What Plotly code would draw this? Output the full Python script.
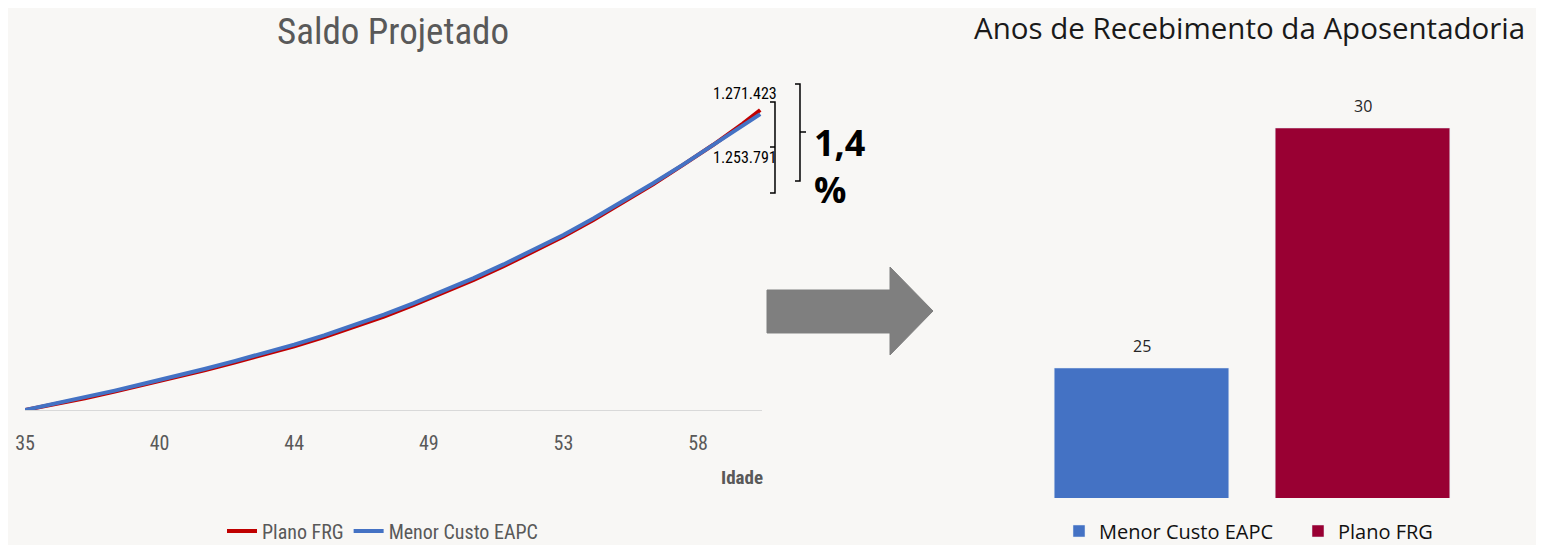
import plotly.graph_objects as go

# ---------------- data ----------------
ages = [35, 36, 37, 38, 39, 40, 41, 42, 43, 44, 45, 46, 47, 48, 49, 50,
        51, 52, 53, 54, 55, 56, 57, 58, 59, 59.58]
plano_frg = [0, 24000, 50000, 78000, 107000, 137000, 168000, 201000, 235000, 270000,
             309000, 351000, 396000, 445000, 497000, 551000, 609000, 671000, 735000,
             805000, 879000, 957000, 1039000, 1123000, 1214000, 1271423]
menor_custo = [0, 26000, 53000, 82000, 112000, 142000, 174000, 207000, 241000, 277000,
               316000, 359000, 404000, 453000, 505000, 559000, 617000, 678000, 742000,
               812000, 885000, 961000, 1040000, 1121000, 1203000, 1253791]
tick_vals = [35, 39.5, 44, 48.5, 53, 57.5]
tick_text = ["35", "40", "44", "49", "53", "58"]
diff_label = "1,4<br>%"

bar_names = ["Menor Custo EAPC", "Plano FRG"]
bar_values = [25, 30]

# ---------------- helpers (page has an 8px body margin) ----------------
OFF = 8
W, H = 1544 - 2 * OFF, 553 - 2 * OFF
def fx(px):
    return (px - OFF) / W
def fy(py):
    return 1 - (py - OFF) / H

NARROW = "Roboto Condensed, Liberation Sans Narrow, DejaVu Sans Condensed, sans-serif"
RED = "#c00000"
BLUE = "#4472c4"
BAR_RED = "#990033"
GRAY_TXT = "#595959"

fig = go.Figure()

fig.add_trace(go.Scatter(x=ages, y=plano_frg, mode="lines", name="Plano FRG",
                         line=dict(color=RED, width=4), xaxis="x", yaxis="y",
                         legend="legend"))
fig.add_trace(go.Scatter(x=ages, y=menor_custo, mode="lines", name="Menor Custo EAPC",
                         line=dict(color=BLUE, width=4), xaxis="x", yaxis="y",
                         legend="legend"))

bar_colors = [BLUE, BAR_RED]
for name, val, col in zip(bar_names, bar_values, bar_colors):
    fig.add_trace(go.Bar(x=[name], y=[val], name=name, marker=dict(color=col),
                         width=0.79, xaxis="x2", yaxis="y2", legend="legend2"))

annotations = []
for name, val in zip(bar_names, bar_values):
    annotations.append(dict(x=name, y=val, xref="x2", yref="y2", text=str(val),
                            showarrow=False, yshift=22,
                            font=dict(family="Open Sans, sans-serif", size=16, color="#262626")))

def fmt(v):
    return f"{v:,}".replace(",", ".")

annotations.append(dict(x=ages[-1], y=plano_frg[-1], xref="x", yref="y",
                        text=fmt(plano_frg[-1]), showarrow=False, xshift=-15, yshift=16,
                        font=dict(family=NARROW, size=16, color="#000000")))
annotations.append(dict(x=ages[-1], y=menor_custo[-1], xref="x", yref="y",
                        text=fmt(menor_custo[-1]), showarrow=False, xshift=-15, yshift=-43,
                        font=dict(family=NARROW, size=16, color="#000000")))
annotations.append(dict(x=fx(812), y=fy(166), xref="paper", yref="paper",
                        text="<b>" + diff_label + "</b>", showarrow=False,
                        xanchor="left", yanchor="middle", align="left",
                        font=dict(family="Open Sans, sans-serif", size=36, color="#000000")))
annotations.append(dict(x=fx(393), y=fy(31), xref="paper", yref="paper",
                        text="Saldo Projetado", showarrow=False,
                        xanchor="center", yanchor="middle",
                        font=dict(family=NARROW, size=37, color=GRAY_TXT)))
annotations.append(dict(x=fx(1249), y=fy(27), xref="paper", yref="paper",
                        text="Anos de Recebimento da Aposentadoria", showarrow=False,
                        xanchor="center", yanchor="middle",
                        font=dict(family="Open Sans, sans-serif", size=29.5, color="#1a1a1a")))
annotations.append(dict(x=fx(742), y=fy(477), xref="paper", yref="paper",
                        text="<b>Idade</b>", showarrow=False,
                        xanchor="center", yanchor="middle",
                        font=dict(family=NARROW, size=19, color=GRAY_TXT)))

def P(pts):
    return " ".join(("M" if i == 0 else "L") + f" {fx(x):.5f},{fy(y):.5f}"
                    for i, (x, y) in enumerate(pts))

shapes = []
arrow = [(767, 290), (890, 290), (890, 267), (933, 311), (890, 355), (890, 333), (767, 333)]
shapes.append(dict(type="path", xref="paper", yref="paper", path=P(arrow) + " Z",
                   fillcolor="#7f7f7f", line=dict(color="#7f7f7f", width=1)))
shapes.append(dict(type="path", xref="paper", yref="paper",
                   path=P([(770, 102), (775, 102), (775, 193), (770, 193)]),
                   line=dict(color="#000000", width=1.5)))
shapes.append(dict(type="path", xref="paper", yref="paper",
                   path=P([(770, 147), (775, 147)]),
                   line=dict(color="#000000", width=1.5)))
shapes.append(dict(type="path", xref="paper", yref="paper",
                   path=P([(795, 84), (800, 84), (800, 181), (795, 181)]),
                   line=dict(color="#000000", width=1.5)))
shapes.append(dict(type="path", xref="paper", yref="paper",
                   path=P([(800, 132), (806, 132)]),
                   line=dict(color="#000000", width=1.5)))

px_per_year = (698 - 25) / (57.5 - 35)
x_end = 35 + (762 - 25) / px_per_year
val_per_px = plano_frg[-1] / (410 - 110)
y_top = (410 - 80) * val_per_px

units_per_px = (bar_values[1] - bar_values[0]) / (368 - 128)
y2_min = bar_values[0] - (498 - 368) * units_per_px
y2_max = bar_values[1] + (128 - 95) * units_per_px

fig.update_layout(
    width=W, height=H,
    margin=dict(l=0, r=0, t=0, b=0, autoexpand=False),
    paper_bgcolor="#f8f7f5", plot_bgcolor="rgba(0,0,0,0)",
    barmode="overlay",
    showlegend=True,
    xaxis=dict(domain=[fx(25), fx(762)], range=[35, x_end],
               tickvals=tick_vals, ticktext=tick_text, showgrid=False, zeroline=False,
               showline=True, linecolor="#d9d9d9", linewidth=1, ticks="",
               ticklabelstandoff=15, automargin=False,
               tickfont=dict(family=NARROW, size=20, color=GRAY_TXT), anchor="y"),
    yaxis=dict(domain=[fy(410), fy(80)], range=[0, y_top], visible=False, anchor="x"),
    xaxis2=dict(domain=[fx(1031), fx(1473)], range=[-0.5, 1.5], visible=False,
                anchor="y2", type="category"),
    yaxis2=dict(domain=[fy(498), fy(95)], range=[y2_min, y2_max], visible=False,
                anchor="x2"),
    legend=dict(orientation="h", x=fx(222), y=fy(531), xanchor="left", yanchor="middle",
                bgcolor="rgba(0,0,0,0)", font=dict(family=NARROW, size=20, color=GRAY_TXT),
                itemwidth=30, tracegroupgap=0, borderwidth=0),
    legend2=dict(orientation="h", x=fx(1059), y=fy(531), xanchor="left", yanchor="middle",
                 bgcolor="rgba(0,0,0,0)", font=dict(family="Open Sans, sans-serif", size=20, color="#111111"),
                 itemwidth=30, entrywidth=194, borderwidth=0),
    annotations=annotations,
    shapes=shapes,
)

fig.write_html("out.html")
